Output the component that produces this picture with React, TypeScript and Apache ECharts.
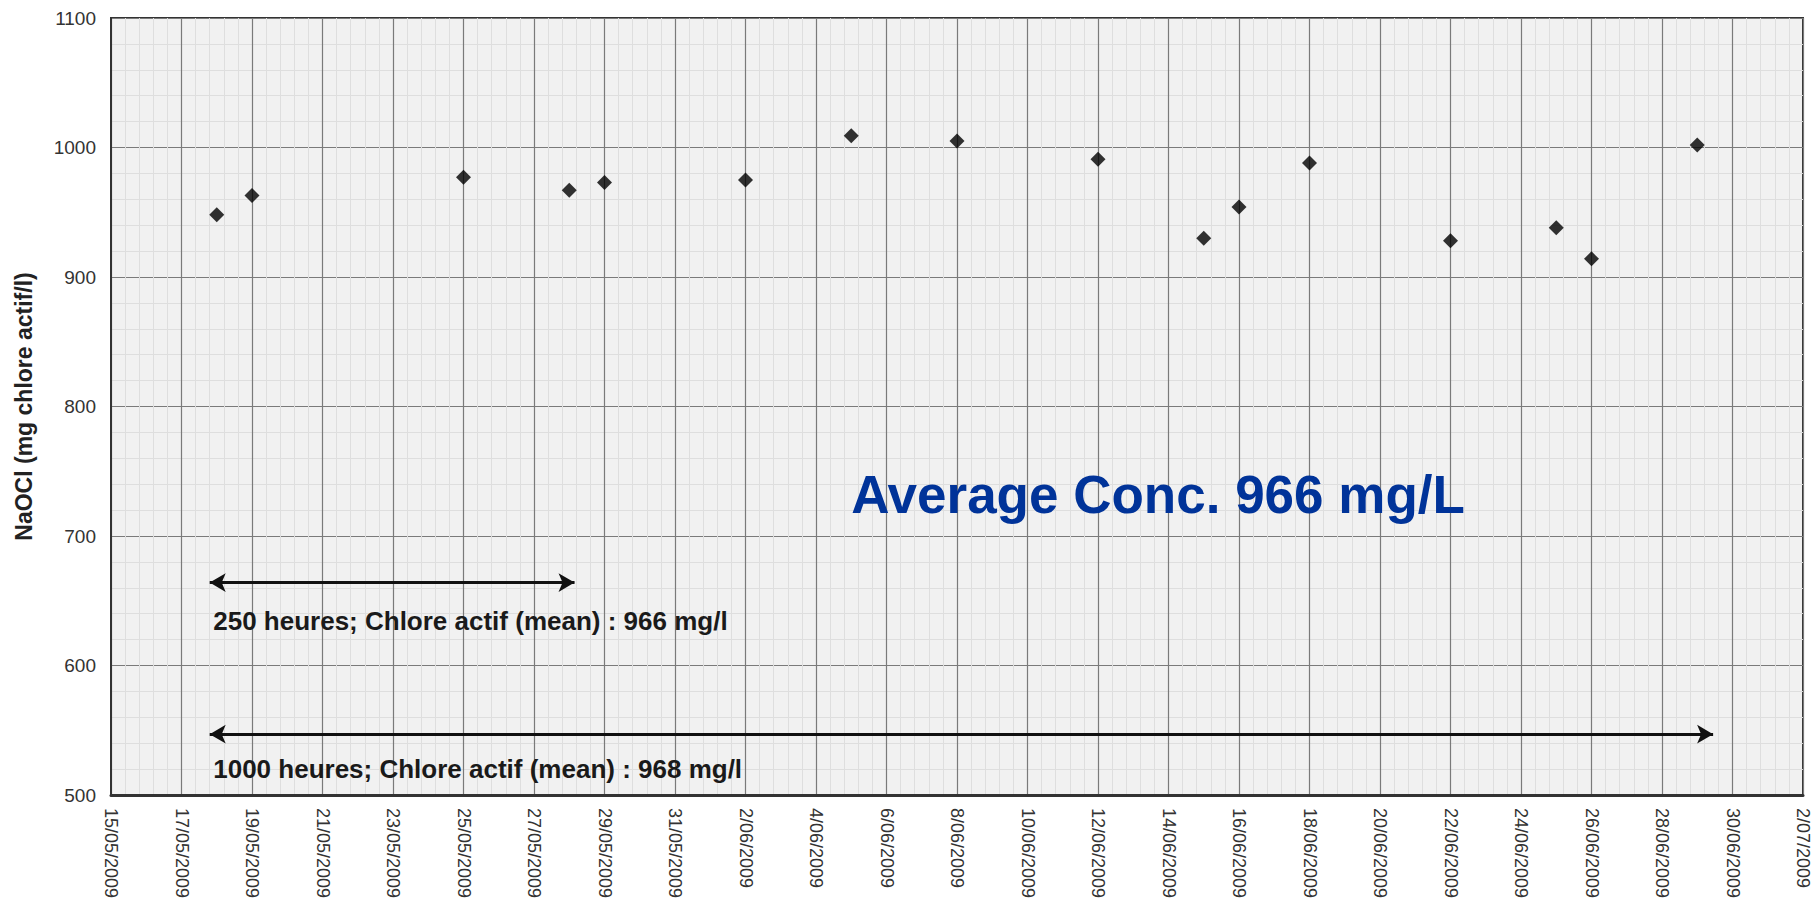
import React, { useEffect, useRef } from "react";
import * as echarts from "echarts";

// ---- Data ----
const baseDate = "15/05/2009";
const endDate = "2/07/2009";
const sampleDates = [
  "18/05/2009", "19/05/2009", "25/05/2009", "28/05/2009", "29/05/2009",
  "2/06/2009", "5/06/2009", "8/06/2009", "12/06/2009", "15/06/2009",
  "16/06/2009", "18/06/2009", "22/06/2009", "25/06/2009", "26/06/2009",
  "29/06/2009",
];
const naoclValues = [
  948, 963, 977, 967, 973, 975, 1009, 1005, 991, 930, 954, 988, 928, 938, 914, 1002,
];
// arrows: [startDay, endDay] offsets from baseDate, and level (mg/l)
const arrow250Days = [2.8, 13.15];
const arrow250Level = 664;
const arrow1000Days = [2.8, 45.45];
const arrow1000Level = 547;
const note250 = "250 heures; Chlore actif (mean) : 966 mg/l";
const note250Pos = [2.9, 634];
const note1000 = "1000 heures; Chlore actif (mean) : 968 mg/l";
const note1000Pos = [2.9, 520];
const avgNote = "Average Conc. 966 mg/L";
const avgNotePos = [21.0, 732];
const yTicks = [500, 600, 700, 800, 900, 1000, 1100];
const yName = "NaOCl (mg chlore actif/l)";

function parseDMY(s: string): number {
  const [d, m, y] = s.split("/").map(Number);
  return Date.UTC(y, m - 1, d);
}
const DAY = 86400000;
const base = parseDMY(baseDate);
const toDay = (s: string) => Math.round((parseDMY(s) - base) / DAY);
const pad = (n: number) => (n < 10 ? "0" + n : "" + n);
function dayLabel(v: number): string {
  const dt = new Date(base + v * DAY);
  return `${dt.getUTCDate()}/${pad(dt.getUTCMonth() + 1)}/${dt.getUTCFullYear()}`;
}

export default function App() {
  const ref = useRef<HTMLDivElement>(null);
  useEffect(() => {
    document.body.style.margin = "0";
    const chart = echarts.init(ref.current!, undefined, { renderer: "svg" });
    const points = sampleDates.map((d, i) => [toDay(d), naoclValues[i]]);
    const textFont = "Liberation Sans, Arial, sans-serif";
    const noteLabel = (text: string, size: number, color: string) => ({
      show: true,
      position: "right",
      distance: 0,
      formatter: text,
      fontSize: size,
      fontWeight: "bold",
      color,
      fontFamily: textFont,
    });
    chart.setOption({
      animation: false,
      backgroundColor: "#ffffff",
      grid: {
        left: 111,
        right: 5,
        top: 18,
        bottom: 110,
        show: true,
        backgroundColor: "#f1f1f1",
        borderColor: "#333",
        borderWidth: 2,
      },
      xAxis: {
        type: "value",
        min: 0,
        max: toDay(endDate),
        interval: 2,
        axisLine: { show: true, lineStyle: { color: "#333", width: 3 } },
        axisTick: { show: false },
        axisLabel: {
          rotate: -90,
          margin: 13,
          fontSize: 18,
          color: "#333",
          fontFamily: textFont,
          formatter: (v: number) => dayLabel(v),
        },
        splitLine: { show: true, lineStyle: { color: "#7a7a7a", width: 1.2 } },
        minorTick: { show: false, splitNumber: 5 },
        minorSplitLine: { show: true, lineStyle: { color: "#dedede", width: 1 } },
      },
      yAxis: {
        type: "value",
        min: yTicks[0],
        max: yTicks[yTicks.length - 1],
        interval: 100,
        name: yName,
        nameLocation: "middle",
        nameRotate: 90,
        nameGap: 76,
        nameTextStyle: {
          fontSize: 23,
          fontWeight: "bold",
          color: "#222",
          fontFamily: textFont,
        },
        axisLine: { show: true, lineStyle: { color: "#333", width: 2 } },
        axisTick: { show: false },
        axisLabel: {
          fontSize: 19,
          color: "#333",
          margin: 15,
          fontFamily: textFont,
          formatter: (v: number) => String(v),
        },
        splitLine: { show: true, lineStyle: { color: "#7a7a7a", width: 1.2 } },
        minorTick: { show: false, splitNumber: 5 },
        minorSplitLine: { show: true, lineStyle: { color: "#dedede", width: 1 } },
      },
      series: [
        {
          type: "scatter",
          data: points,
          symbol: "diamond",
          symbolSize: 15,
          itemStyle: { color: "#000" },
          markLine: {
            silent: true,
            symbol: ["arrow", "arrow"],
            symbolSize: [14, 16],
            label: { show: false },
            lineStyle: { color: "#111", width: 3, type: "solid" },
            data: [
              [
                { coord: [arrow250Days[0], arrow250Level] },
                { coord: [arrow250Days[1], arrow250Level] },
              ],
              [
                { coord: [arrow1000Days[0], arrow1000Level] },
                { coord: [arrow1000Days[1], arrow1000Level] },
              ],
            ],
          },
          markPoint: {
            silent: true,
            symbol: "rect",
            symbolSize: 0,
            data: [
              { coord: note250Pos, label: noteLabel(note250, 26, "#1a1a1a") },
              { coord: note1000Pos, label: noteLabel(note1000, 26, "#1a1a1a") },
              { coord: avgNotePos, label: noteLabel(avgNote, 53, "#003399") },
            ],
          },
        },
      ],
    });
    return () => chart.dispose();
  }, []);
  return <div ref={ref} style={{ width: 1812, height: 905 }} />;
}
